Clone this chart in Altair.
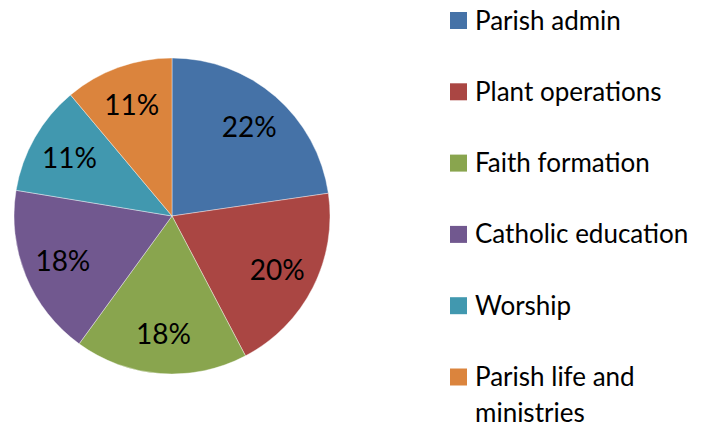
import altair as alt
import pandas as pd

categories = ["Parish admin", "Plant operations", "Faith formation",
              "Catholic education", "Worship", "Parish life and ministries"]
shares = [22.7, 19.6, 17.7, 17.6, 11.3, 11.1]
pct_labels = ["22%", "20%", "18%", "18%", "11%", "11%"]
legend_labels = ["Parish admin", "Plant operations", "Faith formation",
                 "Catholic education", "Worship", "Parish life and\nministries"]
colors = ["#4572A7", "#AA4643", "#89A54E", "#71588F", "#4198AF", "#DB843D"]

df = pd.DataFrame({
    "category": categories,
    "share": shares,
    "pct": pct_labels,
    "legend": legend_labels,
    "order": list(range(len(categories))),
})

color = alt.Color("category:N", scale=alt.Scale(domain=categories, range=colors), legend=None)

base = alt.Chart(df).encode(
    theta=alt.Theta("share:Q", stack=True),
    order=alt.Order("order:Q"),
)
arcs = base.mark_arc(outerRadius=158, stroke="#ffffff", strokeWidth=0.4).encode(
    color=color, x=alt.value(164), y=alt.value(208)
)
labels = base.mark_text(radius=118, font="Lato", fontSize=28, color="#000000").encode(
    text="pct:N", x=alt.value(164), y=alt.value(210)
)
pie = alt.layer(arcs, labels).properties(width=328, height=408)

ypos = alt.Y("category:N", axis=None,
             scale=alt.Scale(domain=categories, type="point", range=[12.5, 369], padding=0))
leg = alt.Chart(df)
squares = leg.mark_square(size=289, filled=True, opacity=1).encode(
    x=alt.value(122.5), y=ypos, color=color
)
texts = leg.mark_text(align="left", baseline="alphabetic", dy=9, font="Lato",
                      fontSize=26, lineBreak="\n", lineHeight=36, color="#000000").encode(
    x=alt.value(139), y=ypos, text="legend:N"
)
legend = alt.layer(squares, texts).properties(width=356, height=408)

chart = alt.hconcat(pie, legend, spacing=0).properties(padding=0).configure_view(stroke=None)

chart.save("out.html", embed_options={"renderer": "svg", "actions": False})
